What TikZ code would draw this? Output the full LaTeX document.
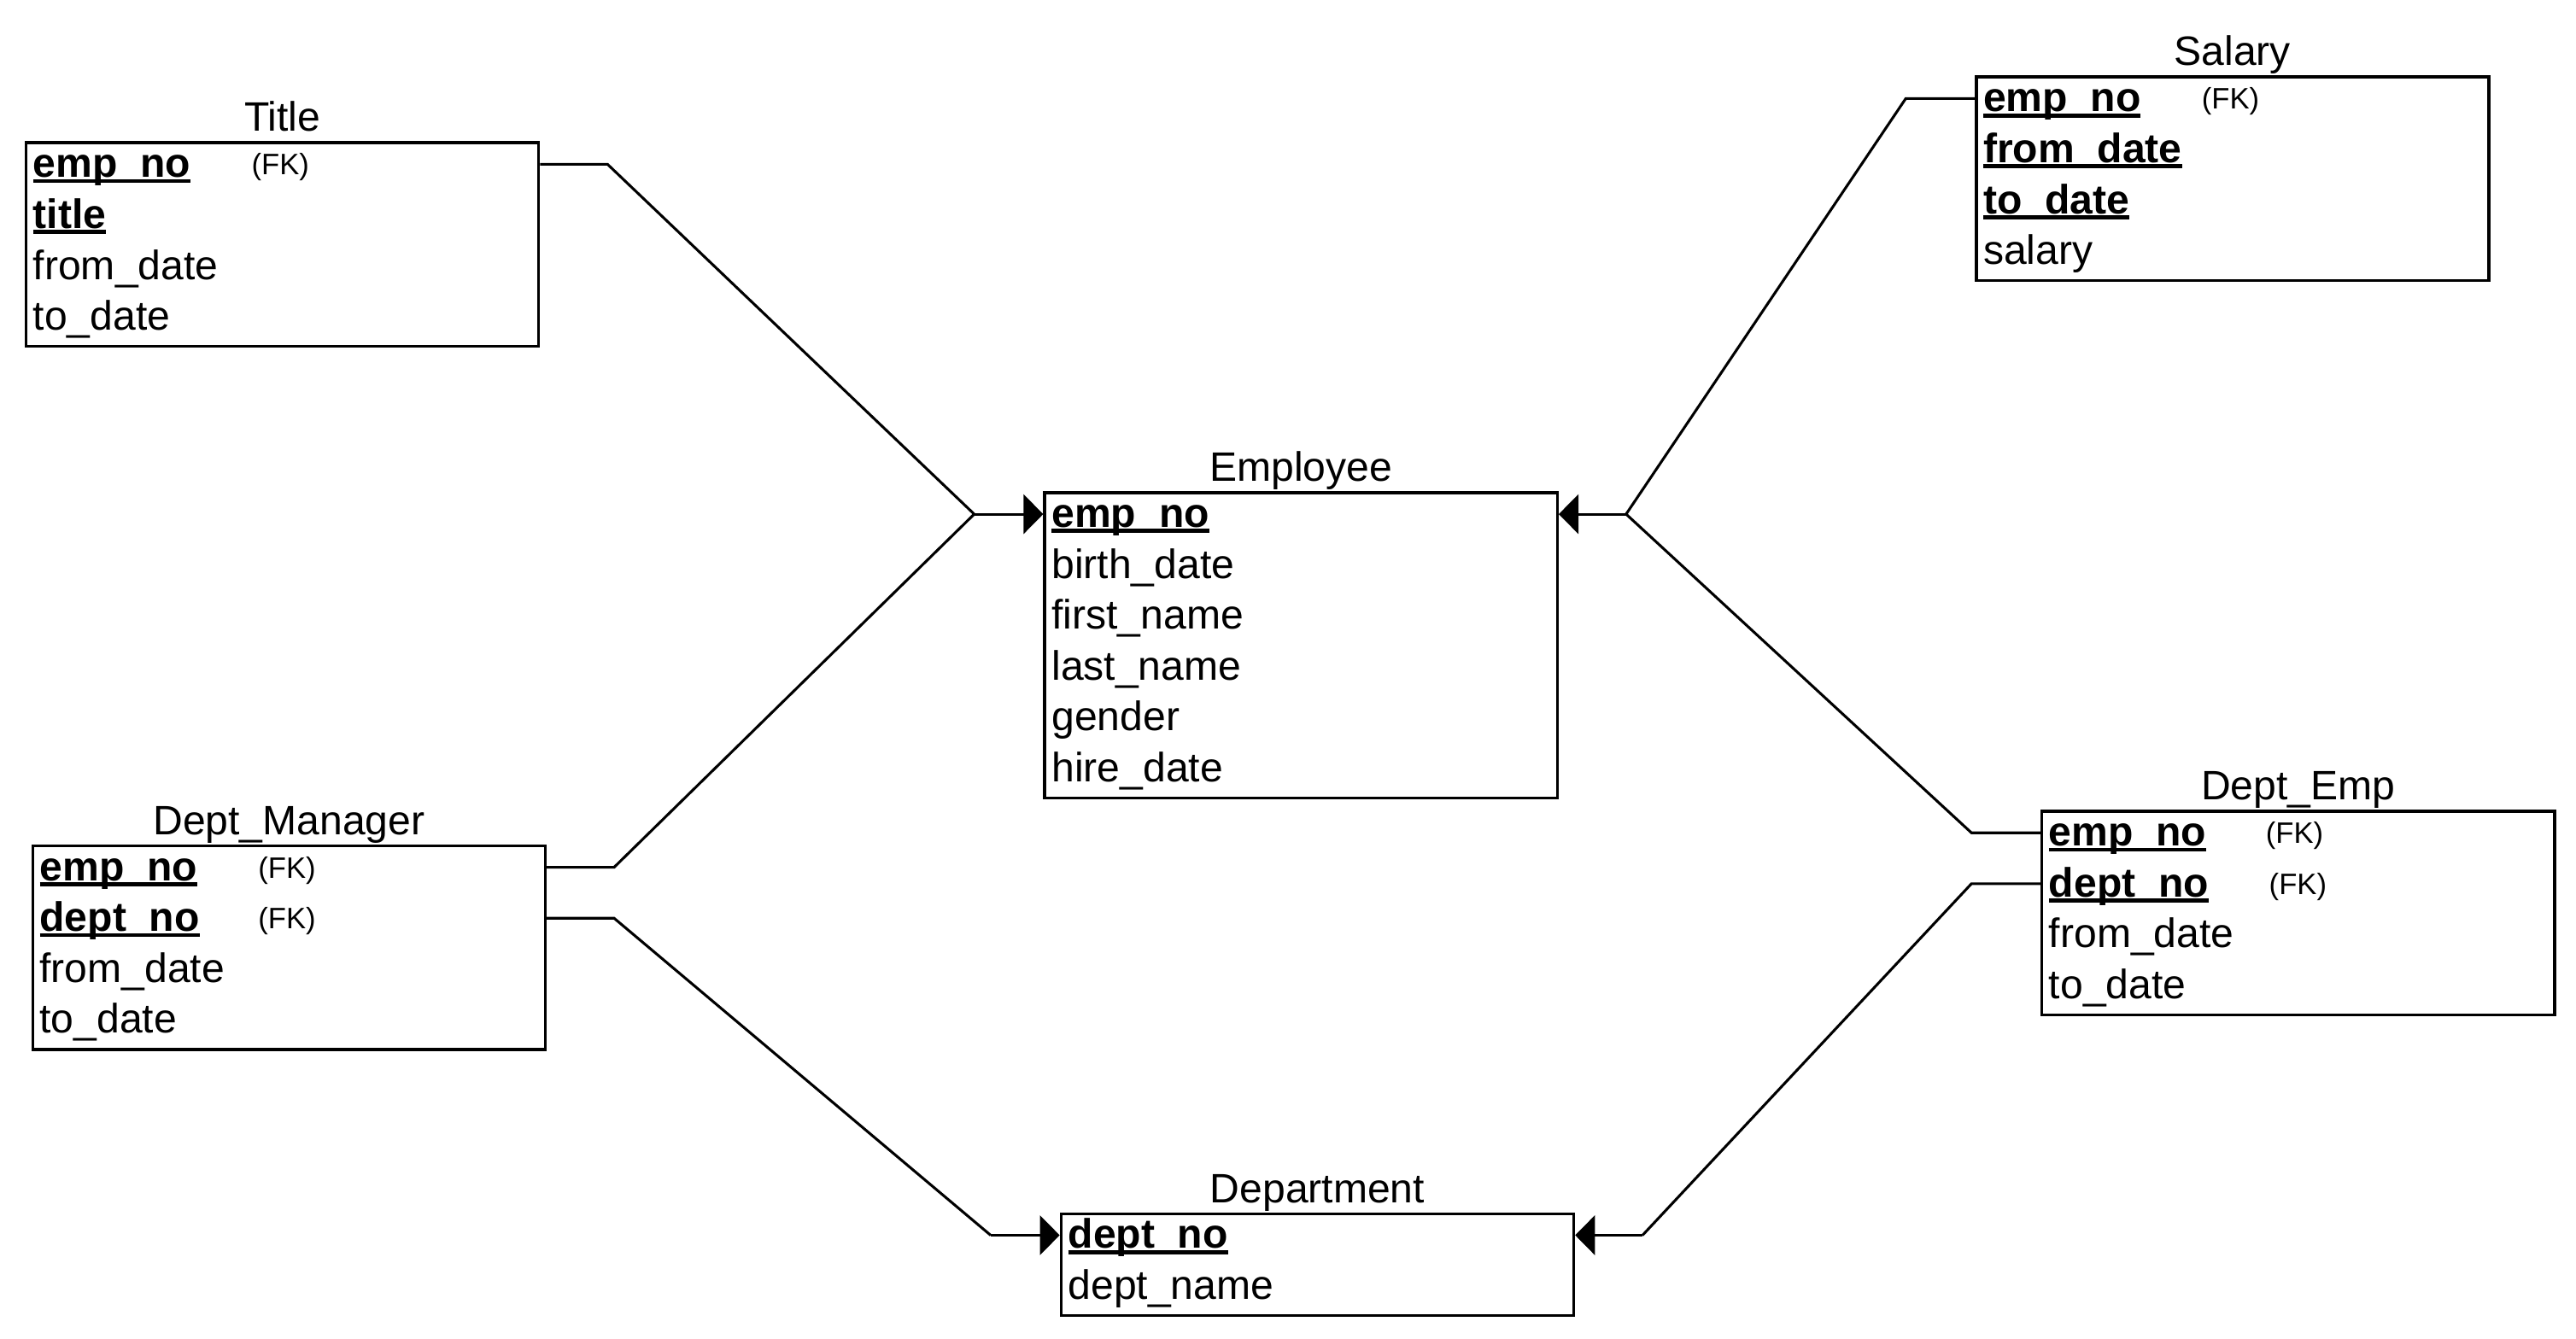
\documentclass[tikz,border=0pt]{standalone}
\usepackage{fontspec}
\setmainfont{Liberation Sans}
\usetikzlibrary{arrows.meta}

% bold key with a thick underline
\newcommand{\pkey}[1]{\setbox0\hbox{\bfseries #1}\rlap{\rule[-3.5pt]{\wd0}{2.5pt}}\box0}

\tikzset{
	erbox/.style={draw, line width=1.8pt, anchor=north west, inner sep=0pt, minimum width=312pt},
	ername/.style={font=\fontsize{25}{30}\selectfont, anchor=base, inner sep=0pt},
	fld/.style={font=\fontsize{25}{30}\selectfont, anchor=west, inner sep=0pt, text height=20pt, text depth=4pt},
	fk/.style={font=\fontsize{18}{20}\selectfont, anchor=west, inner sep=0pt, text height=13pt, text depth=0pt},
	link/.style={line width=1.6pt},
	toone/.style={link, -{Triangle[length=12pt,width=24pt]}},
}

\newcommand{\ertable}[5]{% \ertable ==== V
	% #1 name, #2 corner, #3 title, #4 rows, #5 fields
	\node[erbox, minimum height={31*#4*1pt}] (#1) at (#2) {};
	\node[ername] (#1-name) at ([yshift=6pt]#1.north) {#3};
	\foreach [count=\i from 0] \f in {#5}
		\node[fld] (#1-\i) at ([xshift=5pt,yshift={-(14+31*\i)*1pt}]#1.north west) {\f};
}

\begin{document}
\begin{tikzpicture}[x=1pt, y=-1pt]
	\useasboundingbox (0,0) rectangle (1568,815);

	% tables
	\ertable{title}{15,86}{Title}{4}{\pkey{emp\_no}, \pkey{title}, from\_date, to\_date}
	\ertable{emp}{635,299}{Employee}{6}{\pkey{emp\_no}, birth\_date, first\_name, last\_name, gender, hire\_date}
	\ertable{sal}{1202,46}{Salary}{4}{\pkey{emp\_no}, \pkey{from\_date}, \pkey{to\_date}, salary}
	\ertable{dm}{19,514}{Dept\_Manager}{4}{\pkey{emp\_no}, \pkey{dept\_no}, from\_date, to\_date}
	\ertable{de}{1242,493}{Dept\_Emp}{4}{\pkey{emp\_no}, \pkey{dept\_no}, from\_date, to\_date}
	\ertable{dep}{645,738}{Department}{2}{\pkey{dept\_no}, dept\_name}

	% foreign key marks
	\node[fk] (title-fk) at ([xshift=138pt]title.west |- title-0) {(FK)};
	\node[fk] (sal-fk) at ([xshift=138pt]sal.west |- sal-0) {(FK)};
	\node[fk] (dm-fk0) at ([xshift=138pt]dm.west |- dm-0) {(FK)};
	\node[fk] (dm-fk1) at ([xshift=138pt]dm.west |- dm-1) {(FK)};
	\node[fk] (de-fk0) at ([xshift=137pt]de.west |- de-0) {(FK)};
	\node[fk] (de-fk1) at ([xshift=139pt]de.west |- de-1) {(FK)};

	% junctions
	\coordinate (jl) at ([xshift=-42pt]emp.west |- emp-0);
	\coordinate (jr) at ([xshift=41pt]emp.east |- emp-0);
	\coordinate (kl) at ([xshift=-42pt]dep.west |- dep-0);
	\coordinate (kr) at ([xshift=41pt]dep.east |- dep-0);

	% links to Employee
	\draw[link] (title.east |- title-0) -- ++(41,0) -- (jl);
	\draw[link] (dm.east |- dm-0) -- ++(41,0) -- (jl);
	\draw[toone] (jl) -- (emp.west |- emp-0);
	\draw[link] (sal.west |- sal-0) -- ++(-42,0) -- (jr);
	\draw[link] (de.west |- de-0) -- ++(-42,0) -- (jr);
	\draw[toone] (jr) -- (emp.east |- emp-0);

	% links to Department
	\draw[link] (dm.east |- dm-1) -- ++(41,0) -- (kl);
	\draw[toone] (kl) -- (dep.west |- dep-0);
	\draw[link] (de.west |- de-1) -- ++(-42,0) -- (kr);
	\draw[toone] (kr) -- (dep.east |- dep-0);
\end{tikzpicture}
\end{document}
